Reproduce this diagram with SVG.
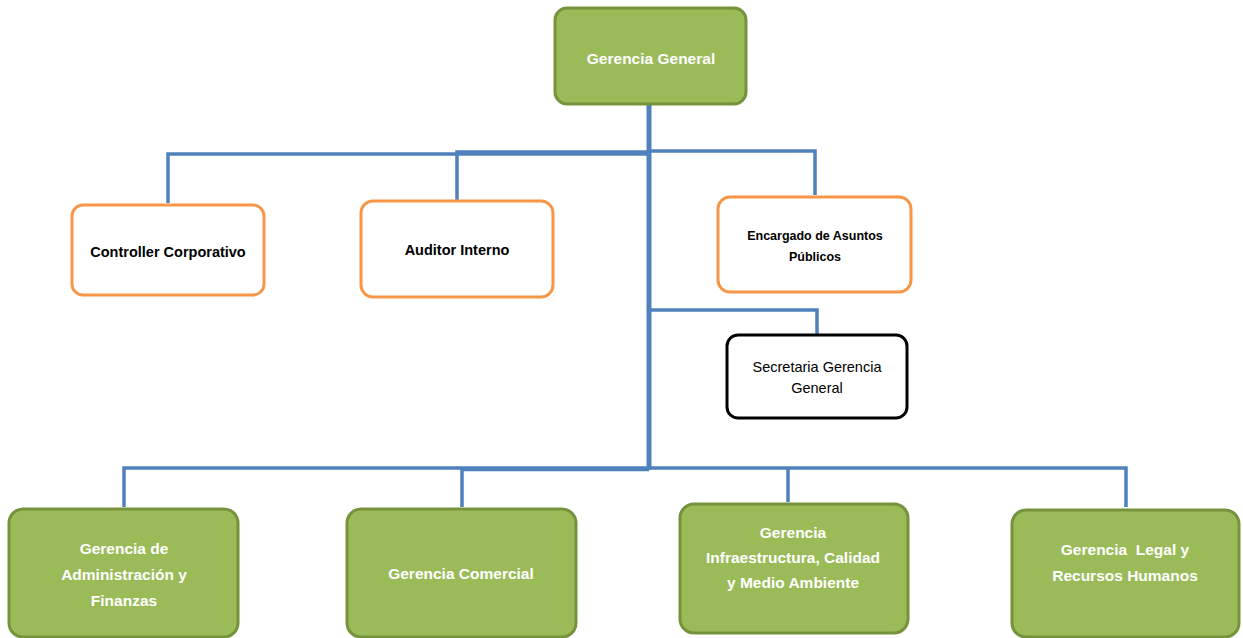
<svg xmlns="http://www.w3.org/2000/svg" width="1243" height="638" viewBox="0 0 1243 638">
<style>
.conn{fill:none;stroke:#4F81BD;stroke-width:3.5;stroke-linejoin:miter}
.trunk{stroke-width:5}
.green{fill:#9BBB59;stroke:#76923C;stroke-width:3}
.orange{fill:#FFFFFF;stroke:#F79646;stroke-width:3}
.black{fill:#FFFFFF;stroke:#000000;stroke-width:3}
.wt{font-family:"Liberation Sans",Arial,sans-serif;font-weight:bold;font-size:15.5px;fill:#FFFFFF;text-anchor:middle}
.bt{font-family:"Liberation Sans",Arial,sans-serif;font-weight:bold;font-size:14.5px;fill:#000000;text-anchor:middle}
.st{font-family:"Liberation Sans",Arial,sans-serif;font-weight:bold;font-size:12.5px;fill:#000000;text-anchor:middle}
.rt{font-family:"Liberation Sans",Arial,sans-serif;font-size:14.5px;fill:#000000;text-anchor:middle}
</style>
<rect width="1243" height="638" fill="#FFFFFF"/>
<g id="connectors">
<polyline class="conn" points="168,203 168,154 649,154"/>
<polyline class="conn" points="457,200 457,152 649,152"/>
<polyline class="conn" points="649,151 815,151 815,195"/>
<polyline class="conn" points="649,310 817,310 817,334"/>
<polyline class="conn" points="124,507 124,468 649,468"/>
<polyline class="conn" points="462,507 462,469.5 649,469.5"/>
<polyline class="conn" points="649,468 1126,468 1126,507"/>
<line class="conn" x1="788" y1="468" x2="788" y2="502"/>
<line class="conn trunk" x1="649" y1="104" x2="649" y2="470"/>
</g>
<g id="gerencia-general">
<rect class="green" x="555" y="8" width="191" height="96" rx="12"/>
<text class="wt" x="651" y="64">Gerencia General</text>
</g>
<g id="controller-corporativo">
<rect class="orange" x="72" y="205" width="192" height="90" rx="11"/>
<text class="bt" x="168" y="257">Controller Corporativo</text>
</g>
<g id="auditor-interno">
<rect class="orange" x="361" y="201" width="192" height="96" rx="12"/>
<text class="bt" x="457" y="255">Auditor Interno</text>
</g>
<g id="encargado-asuntos-publicos">
<rect class="orange" x="718" y="197" width="193" height="95" rx="12"/>
<text class="st" x="815" y="240">Encargado de Asuntos</text>
<text class="st" x="815" y="261">Públicos</text>
</g>
<g id="secretaria-gerencia-general">
<rect class="black" x="727" y="335" width="180" height="83" rx="11"/>
<text class="rt" x="817" y="372">Secretaria Gerencia</text>
<text class="rt" x="817" y="393">General</text>
</g>
<g id="gerencia-administracion-finanzas">
<rect class="green" x="9" y="509" width="229" height="128" rx="14"/>
<text class="wt" x="124" y="554">Gerencia de</text>
<text class="wt" x="124" y="580">Administración y</text>
<text class="wt" x="124" y="606">Finanzas</text>
</g>
<g id="gerencia-comercial">
<rect class="green" x="347" y="509" width="229" height="128" rx="14"/>
<text class="wt" x="461" y="579">Gerencia Comercial</text>
</g>
<g id="gerencia-infraestructura">
<rect class="green" x="680" y="504" width="228" height="129" rx="14"/>
<text class="wt" x="793" y="538">Gerencia</text>
<text class="wt" x="793" y="563">Infraestructura, Calidad</text>
<text class="wt" x="793" y="588">y Medio Ambiente</text>
</g>
<g id="gerencia-legal-rrhh">
<rect class="green" x="1012" y="510" width="227" height="127" rx="14"/>
<text class="wt" x="1125" y="555" style="white-space:pre">Gerencia  Legal y</text>
<text class="wt" x="1125" y="581">Recursos Humanos</text>
</g>
</svg>
